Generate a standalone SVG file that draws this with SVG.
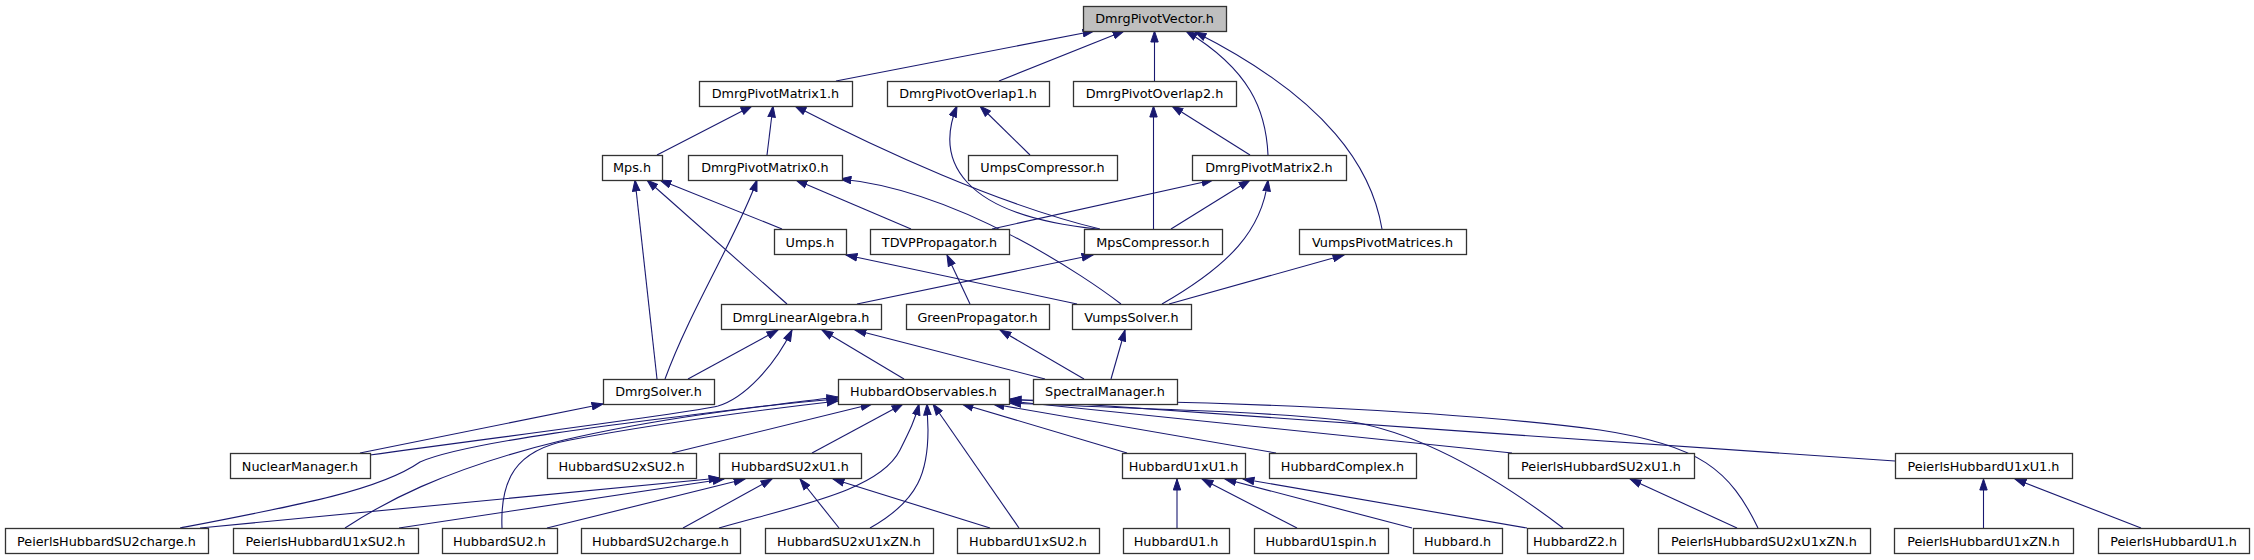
<svg xmlns="http://www.w3.org/2000/svg" width="2254" height="560" viewBox="0 0 2254 560">
<style>
.node rect{fill:#ffffff;stroke:#333333;stroke-width:1.3}
.root rect{fill:#bfbfbf}
.node text{font-family:"DejaVu Sans",sans-serif;font-size:12.8px;text-anchor:middle;fill:#000}
#edges path{fill:none;stroke:#191970;stroke-width:1.1;marker-end:url(#arr)}
</style>
<defs>
<marker id="arr" markerUnits="userSpaceOnUse" markerWidth="12" markerHeight="9" viewBox="0 0 12 9" refX="11.5" refY="4.5" orient="auto">
<path d="M0.5,0.8 L11.5,4.5 L0.5,8.2 Z" fill="#191970" stroke="#191970" stroke-width="1"/>
</marker>
</defs>
<rect width="2254" height="560" fill="#ffffff"/>
<g id="edges">
<path d="M836,81 L1094,31"/>
<path d="M999,81 L1124,31"/>
<path d="M1154.5,81 L1154.5,31"/>
<path d="M1268,155 C1266,110 1250,70 1186,31"/>
<path d="M1382,229 C1372,170 1330,100 1195,32"/>
<path d="M657,155 L752,106"/>
<path d="M767,155 L773,106"/>
<path d="M1100,229 C1000,205 880,150 795,106"/>
<path d="M1097,229 C960,215 935,160 957,106"/>
<path d="M1030,155 L980,106"/>
<path d="M1153.5,229 L1153.5,106"/>
<path d="M1250,155 L1172,106"/>
<path d="M657,379 L635,180"/>
<path d="M787,304 L647,180"/>
<path d="M782,229 L660,180"/>
<path d="M665,379 C690,310 740,230 757,180"/>
<path d="M911,229 L796,180"/>
<path d="M1121,304 C1090,280 960,190 840,179"/>
<path d="M992,229 L1213,180"/>
<path d="M1171,229 L1250,180"/>
<path d="M1162,304 C1230,265 1262,230 1268,180"/>
<path d="M1077,304 L846,255"/>
<path d="M970,304 L947,255"/>
<path d="M857,304 L1093,255"/>
<path d="M1169,304 L1344,255"/>
<path d="M688,379 L778,330"/>
<path d="M370,455 C500,437 690,413 718,406 C745,398 775,365 792,330"/>
<path d="M904,379 L822,330"/>
<path d="M1045,379 L855,330"/>
<path d="M1084,379 L1000,330"/>
<path d="M1111,379 L1125,330"/>
<path d="M360,453 L603,404"/>
<path d="M180,528 C300,505 380,490 420,462 C470,440 650,420 838,397"/>
<path d="M345,528 C380,505 440,470 564,440 C650,420 760,405 838,399"/>
<path d="M502,528 C500,480 515,450 570,440 C650,425 760,410 838,401"/>
<path d="M672,453 L872,404"/>
<path d="M812,453 L903,404"/>
<path d="M719,528 C800,505 880,490 900,450 C910,430 915,420 919,404"/>
<path d="M870,528 C920,500 928,470 928,430 L927,404"/>
<path d="M1019,528 L933,404"/>
<path d="M1127,453 L962,404"/>
<path d="M1276,453 L993,404"/>
<path d="M1512,453 L1009,401"/>
<path d="M1563,528 C1500,480 1420,430 1340,420 C1250,410 1100,408 1010,403"/>
<path d="M1895,461 C1700,449 1200,412 1010,399"/>
<path d="M1758,528 C1730,470 1700,445 1600,430 C1450,410 1200,400 1010,400"/>
<path d="M200,528 L720,478"/>
<path d="M399,528 L724,479"/>
<path d="M547,528 L745,479"/>
<path d="M683,528 L772,479"/>
<path d="M839,528 L800,479"/>
<path d="M990,528 L833,479"/>
<path d="M1177,528 L1177,479"/>
<path d="M1297,528 L1202,479"/>
<path d="M1412,528 L1225,479"/>
<path d="M1527,528 L1243,479"/>
<path d="M1737,528 L1630,479"/>
<path d="M1983.5,528 L1983.5,479"/>
<path d="M2141,528 L2015,479"/>
</g>
<g id="n0" class="node root"><rect x="1083.5" y="6.5" width="143" height="25"/><text x="1154.5" y="23">DmrgPivotVector.h</text></g>
<g id="n1" class="node"><rect x="699.5" y="81.5" width="153" height="25"/><text x="775.5" y="98">DmrgPivotMatrix1.h</text></g>
<g id="n2" class="node"><rect x="887.5" y="81.5" width="162" height="25"/><text x="968" y="98">DmrgPivotOverlap1.h</text></g>
<g id="n3" class="node"><rect x="1073.5" y="81.5" width="163" height="25"/><text x="1154.5" y="98">DmrgPivotOverlap2.h</text></g>
<g id="n4" class="node"><rect x="602.5" y="155.5" width="60" height="25"/><text x="632" y="172">Mps.h</text></g>
<g id="n5" class="node"><rect x="688.5" y="155.5" width="154" height="25"/><text x="765" y="172">DmrgPivotMatrix0.h</text></g>
<g id="n6" class="node"><rect x="968.5" y="155.5" width="149" height="25"/><text x="1042.5" y="172">UmpsCompressor.h</text></g>
<g id="n7" class="node"><rect x="1192.5" y="155.5" width="154" height="25"/><text x="1269" y="172">DmrgPivotMatrix2.h</text></g>
<g id="n8" class="node"><rect x="774.5" y="229.5" width="72" height="25"/><text x="810" y="246.5">Umps.h</text></g>
<g id="n9" class="node"><rect x="870.5" y="229.5" width="139" height="25"/><text x="939.5" y="246.5">TDVPPropagator.h</text></g>
<g id="n10" class="node"><rect x="1084.5" y="229.5" width="138" height="25"/><text x="1153" y="246.5">MpsCompressor.h</text></g>
<g id="n11" class="node"><rect x="1299.5" y="229.5" width="167" height="25"/><text x="1382.5" y="246.5">VumpsPivotMatrices.h</text></g>
<g id="n12" class="node"><rect x="721.5" y="304.5" width="160" height="25"/><text x="801" y="321.5">DmrgLinearAlgebra.h</text></g>
<g id="n13" class="node"><rect x="906.5" y="304.5" width="143" height="25"/><text x="977.5" y="321.5">GreenPropagator.h</text></g>
<g id="n14" class="node"><rect x="1072.5" y="304.5" width="119" height="25"/><text x="1131.5" y="321.5">VumpsSolver.h</text></g>
<g id="n15" class="node"><rect x="603.5" y="379.5" width="111" height="25"/><text x="658.5" y="396">DmrgSolver.h</text></g>
<g id="n16" class="node"><rect x="838.5" y="379.5" width="171" height="25"/><text x="923.5" y="396">HubbardObservables.h</text></g>
<g id="n17" class="node"><rect x="1033.5" y="379.5" width="144" height="25"/><text x="1105" y="396">SpectralManager.h</text></g>
<g id="n18" class="node"><rect x="230.5" y="453.5" width="140" height="25"/><text x="300" y="470.5">NuclearManager.h</text></g>
<g id="n19" class="node"><rect x="547.5" y="453.5" width="149" height="25"/><text x="621.5" y="470.5">HubbardSU2xSU2.h</text></g>
<g id="n20" class="node"><rect x="719.5" y="453.5" width="142" height="25"/><text x="790" y="470.5">HubbardSU2xU1.h</text></g>
<g id="n21" class="node"><rect x="1122.5" y="453.5" width="123" height="25"/><text x="1183.5" y="470.5">HubbardU1xU1.h</text></g>
<g id="n22" class="node"><rect x="1269.5" y="453.5" width="147" height="25"/><text x="1342.5" y="470.5">HubbardComplex.h</text></g>
<g id="n23" class="node"><rect x="1508.5" y="453.5" width="186" height="25"/><text x="1601" y="470.5">PeierlsHubbardSU2xU1.h</text></g>
<g id="n24" class="node"><rect x="1895.5" y="453.5" width="177" height="25"/><text x="1983.5" y="470.5">PeierlsHubbardU1xU1.h</text></g>
<g id="n25" class="node"><rect x="5.5" y="528.5" width="203" height="25"/><text x="106.5" y="545.5">PeierlsHubbardSU2charge.h</text></g>
<g id="n26" class="node"><rect x="233.5" y="528.5" width="185" height="25"/><text x="325.5" y="545.5">PeierlsHubbardU1xSU2.h</text></g>
<g id="n27" class="node"><rect x="442.5" y="528.5" width="115" height="25"/><text x="499.5" y="545.5">HubbardSU2.h</text></g>
<g id="n28" class="node"><rect x="581.5" y="528.5" width="159" height="25"/><text x="660.5" y="545.5">HubbardSU2charge.h</text></g>
<g id="n29" class="node"><rect x="765.5" y="528.5" width="168" height="25"/><text x="849" y="545.5">HubbardSU2xU1xZN.h</text></g>
<g id="n30" class="node"><rect x="957.5" y="528.5" width="142" height="25"/><text x="1028" y="545.5">HubbardU1xSU2.h</text></g>
<g id="n31" class="node"><rect x="1123.5" y="528.5" width="106" height="25"/><text x="1176" y="545.5">HubbardU1.h</text></g>
<g id="n32" class="node"><rect x="1254.5" y="528.5" width="134" height="25"/><text x="1321" y="545.5">HubbardU1spin.h</text></g>
<g id="n33" class="node"><rect x="1413.5" y="528.5" width="89" height="25"/><text x="1457.5" y="545.5">Hubbard.h</text></g>
<g id="n34" class="node"><rect x="1527.5" y="528.5" width="96" height="25"/><text x="1575" y="545.5">HubbardZ2.h</text></g>
<g id="n35" class="node"><rect x="1658.5" y="528.5" width="212" height="25"/><text x="1764" y="545.5">PeierlsHubbardSU2xU1xZN.h</text></g>
<g id="n36" class="node"><rect x="1894.5" y="528.5" width="179" height="25"/><text x="1983.5" y="545.5">PeierlsHubbardU1xZN.h</text></g>
<g id="n37" class="node"><rect x="2098.5" y="528.5" width="151" height="25"/><text x="2173.5" y="545.5">PeierlsHubbardU1.h</text></g>
</svg>
